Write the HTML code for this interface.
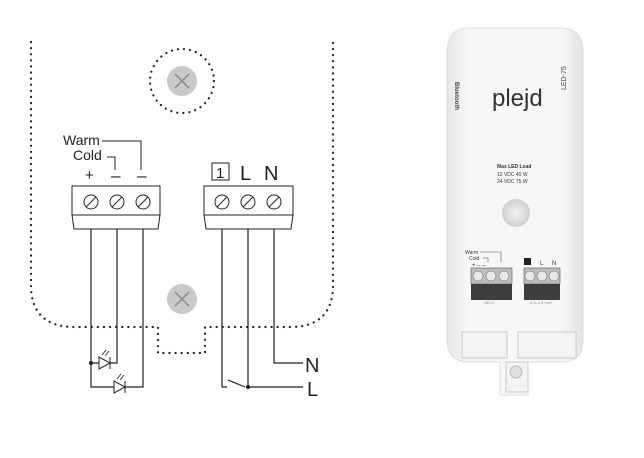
<!DOCTYPE html>
<html><head><style>
body{margin:0;background:#fff;}
svg{display:block;font-family:"Liberation Sans",sans-serif;}
</style></head><body>
<svg width="644" height="458" viewBox="0 0 644 458" xmlns="http://www.w3.org/2000/svg">
<defs>
<linearGradient id="dev" x1="0" y1="0" x2="1" y2="0">
<stop offset="0" stop-color="#e6e6e8"/><stop offset="0.15" stop-color="#f7f7f8"/><stop offset="0.85" stop-color="#f7f7f8"/><stop offset="1" stop-color="#e2e2e4"/></linearGradient>
<radialGradient id="btn"><stop offset="0" stop-color="#f2f2f2"/><stop offset="1" stop-color="#cfcfd1"/></radialGradient>
</defs>
<g fill="none" stroke="#222" stroke-width="2.2" stroke-dasharray="0.1 6" stroke-linecap="round">
<path d="M31 42 V285 Q31 327 75 327 H158 V353 H205 V327 H290 Q333 327 333 285 V42"/>
<circle cx="182" cy="81" r="32"/>
</g>
<g>
<circle cx="182" cy="81" r="15" fill="#c9c9cb"/>
<path d="M175 74 L189 88 M189 74 L175 88" stroke="#8a8a8c" stroke-width="1.5"/>
<circle cx="182" cy="299" r="15" fill="#c9c9cb"/>
<path d="M175 292 L189 306 M189 292 L175 306" stroke="#8a8a8c" stroke-width="1.5"/>
</g>
<g font-size="14" fill="#222">
<text x="63" y="145">Warm</text>
<text x="73" y="160">Cold</text>
<text x="85" y="180" font-size="15">+</text>
<text x="111" y="181" font-size="17">–</text>
<text x="137" y="181" font-size="17">–</text>
</g>
<g fill="none" stroke="#222" stroke-width="1">
<path d="M102 141 H141 V170"/>
<path d="M107 157 H115 V170"/>
</g>
<rect x="212" y="163" width="17" height="17" fill="none" stroke="#222" stroke-width="1"/>
<text x="216" y="178" font-size="15" fill="#222">1</text>
<text x="240" y="180" font-size="20" fill="#222">L</text>
<text x="264" y="180" font-size="20" fill="#222">N</text>
<g fill="#fff" stroke="#222" stroke-width="1">
<path d="M72 186 H160 V215 L158 229 H74 L72 215 Z"/>
<path d="M72 215 H160"/>
<path d="M204 186 H293 V215 L291 229 H206 L204 215 Z"/>
<path d="M204 215 H293"/>
<g>
<circle cx="91" cy="202" r="7"/><path d="M86 207 L96 197"/>
<circle cx="117" cy="202" r="7"/><path d="M112 207 L122 197"/>
<circle cx="143" cy="202" r="7"/><path d="M138 207 L148 197"/>
<circle cx="222" cy="202" r="7"/><path d="M217 207 L227 197"/>
<circle cx="248" cy="202" r="7"/><path d="M243 207 L253 197"/>
<circle cx="274" cy="202" r="7"/><path d="M269 207 L279 197"/>
</g>
</g>
<g fill="none" stroke="#222" stroke-width="1.2">
<path d="M91 229 V387 H143 V229"/>
<path d="M117 229 V363 H91"/>
<path d="M222 229 V387 H227"/>
<path d="M228 380 L245 387"/>
<path d="M248 229 V387 H303"/>
<path d="M274 229 V363 H303"/>
</g>
<circle cx="91" cy="363" r="2" fill="#222"/>
<circle cx="248" cy="387" r="2" fill="#222"/>
<g fill="#fff" stroke="#222" stroke-width="1">
<path d="M99 357 V369 L110 363 Z"/><path d="M110 357 V369"/>
<path d="M114 381 V393 L125 387 Z"/><path d="M125 381 V393"/>
<path d="M102 355 L106 350 M105 356 L109 351" stroke-width="0.8"/>
<path d="M117 379 L121 374 M120 380 L124 375" stroke-width="0.8"/>
</g>
<text x="305" y="372" font-size="20" fill="#222">N</text>
<text x="307" y="396" font-size="20" fill="#222">L</text>
<path d="M470 28 H560 Q583 28 583 52 V340 Q583 360 565 362 H528 V395 H500 V362 H466 Q447 360 447 340 V52 Q447 28 470 28 Z" fill="url(#dev)" stroke="#dedee0" stroke-width="1"/>
<text x="492" y="106" font-size="24" fill="#333">plejd</text>
<text transform="translate(455 82) rotate(90)" font-size="6" fill="#444" font-weight="bold">Bluetooth</text>
<text transform="translate(566 90) rotate(-90)" font-size="7" fill="#444">LED-75</text>
<text x="497" y="168" font-size="5" font-weight="bold" fill="#333">Max LED Load</text>
<text x="497" y="176" font-size="5" fill="#333">12 VDC  40 W</text>
<text x="497" y="183" font-size="5" fill="#333">24 VDC  75 W</text>
<circle cx="516" cy="213" r="14" fill="url(#btn)"/>
<text x="465" y="254" font-size="5" fill="#333">Warm</text>
<text x="469" y="260" font-size="5" fill="#333">Cold</text>
<text x="472" y="267" font-size="6" fill="#333">+  –  –</text>
<path d="M480 252 H501 V262 M483 258 H488 V262" fill="none" stroke="#555" stroke-width="0.6"/>
<rect x="524" y="258" width="7" height="7" fill="#222"/>
<text x="540" y="265" font-size="6" fill="#333">L</text>
<text x="552" y="265" font-size="6" fill="#333">N</text>
<g>
<rect x="471" y="268" width="41" height="16" fill="#bdbdbf" stroke="#555" stroke-width="0.6"/>
<rect x="471" y="284" width="41" height="16" fill="#3d3d3f"/>
<rect x="524" y="268" width="36" height="16" fill="#bdbdbf" stroke="#555" stroke-width="0.6"/>
<rect x="524" y="284" width="36" height="16" fill="#3d3d3f"/>
<g fill="#e8e8e8" stroke="#666" stroke-width="0.5">
<circle cx="478" cy="276" r="5"/><circle cx="491" cy="276" r="5"/><circle cx="504" cy="276" r="5"/>
<circle cx="530" cy="276" r="5"/><circle cx="542" cy="276" r="5"/><circle cx="554" cy="276" r="5"/>
</g>
</g>
<text x="484" y="304" font-size="4" fill="#888">SELV</text>
<text x="530" y="304" font-size="4" fill="#888">0.5–2.5 mm²</text>
<g fill="#f4f4f5" stroke="#c8c8ca" stroke-width="1">
<rect x="462" y="332" width="45" height="26"/>
<rect x="518" y="332" width="58" height="26"/>
<rect x="506" y="362" width="22" height="30"/>
</g>
<circle cx="516" cy="372" r="6" fill="#e0e0e2" stroke="#bbb"/>
</svg>
</body></html>
